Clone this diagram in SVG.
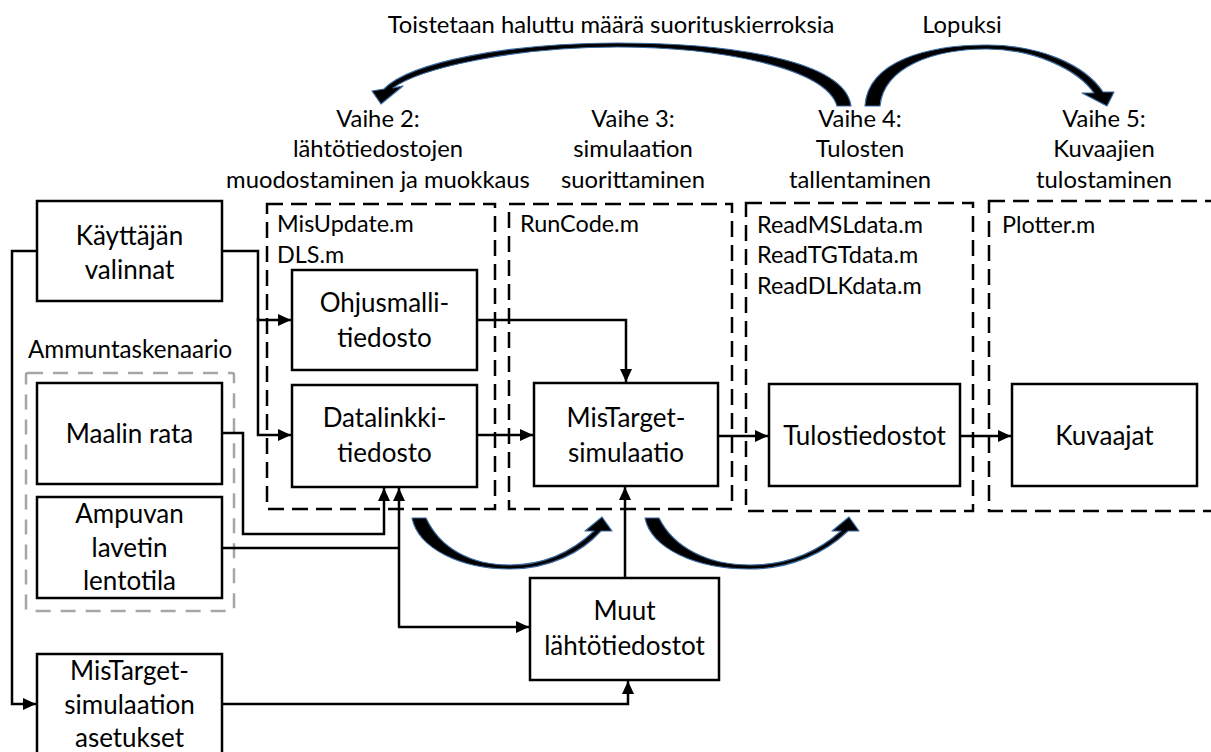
<svg xmlns="http://www.w3.org/2000/svg" width="1211" height="752" viewBox="0 0 1211 752">
  <defs>
    <style>
      .box { fill: #ffffff; stroke: #000000; stroke-width: 2.5; }
      .grp { fill: none; stroke: #000000; stroke-width: 2.5; stroke-dasharray: 16 8; }
      .scen { fill: none; stroke: #a6a6a6; stroke-width: 2.5; stroke-dasharray: 15 10; }
      .wire { fill: none; stroke: #000000; stroke-width: 2.5; }
      .loop { fill: #000000; stroke: #3b6aa0; stroke-width: 1.2; stroke-linejoin: round; }
      text { font-family: Lato, "Liberation Sans", sans-serif; fill: #000000; }
      .lbl { font-size: 26px; text-anchor: middle; }
      .hd { font-size: 23.8px; text-anchor: middle; }
      .fn { font-size: 23.4px; }
      .scn { font-size: 24.2px; }
    </style>
    <marker id="arrow" markerUnits="userSpaceOnUse" markerWidth="14" markerHeight="12" refX="13" refY="6" orient="auto">
      <path d="M0,0 L13,6 L0,12 Z" fill="#000000"/>
    </marker>
  </defs>

  <rect width="1211" height="752" fill="#ffffff"/>

  <!-- top captions -->
  <g id="captions">
    <text class="hd" x="611" y="33">Toistetaan haluttu määrä suorituskierroksia</text>
    <text class="hd" x="962" y="33">Lopuksi</text>
  </g>

  <!-- phase headings -->
  <g id="phase2-title">
    <text class="hd" x="378" y="127">Vaihe 2:</text>
    <text class="hd" x="378" y="157">lähtötiedostojen</text>
    <text class="hd" x="378" y="188">muodostaminen ja muokkaus</text>
  </g>
  <g id="phase3-title">
    <text class="hd" x="633" y="127">Vaihe 3:</text>
    <text class="hd" x="633" y="157">simulaation</text>
    <text class="hd" x="633" y="188">suorittaminen</text>
  </g>
  <g id="phase4-title">
    <text class="hd" x="860" y="127">Vaihe 4:</text>
    <text class="hd" x="860" y="157">Tulosten</text>
    <text class="hd" x="860" y="188">tallentaminen</text>
  </g>
  <g id="phase5-title">
    <text class="hd" x="1104" y="127">Vaihe 5:</text>
    <text class="hd" x="1104" y="157">Kuvaajien</text>
    <text class="hd" x="1104" y="188">tulostaminen</text>
  </g>

  <!-- phase containers -->
  <g id="phase2">
    <rect class="grp" x="267" y="204" width="228" height="305"/>
    <text class="fn" x="277" y="232">MisUpdate.m</text>
    <text class="fn" x="277" y="263">DLS.m</text>
  </g>
  <g id="phase3">
    <rect class="grp" x="509" y="204" width="223" height="305"/>
    <text class="fn" x="520" y="232">RunCode.m</text>
  </g>
  <g id="phase4">
    <rect class="grp" x="746" y="203" width="227" height="308"/>
    <text class="fn" x="757" y="233">ReadMSLdata.m</text>
    <text class="fn" x="757" y="263">ReadTGTdata.m</text>
    <text class="fn" x="757" y="294">ReadDLKdata.m</text>
  </g>
  <g id="phase5">
    <rect class="grp" x="989" y="201" width="260" height="310"/>
    <text class="fn" x="1002" y="233">Plotter.m</text>
  </g>

  <!-- scenario container -->
  <g id="scenario">
    <rect class="scen" x="26" y="373" width="208" height="238" rx="2"/>
    <text class="scn" x="28" y="358">Ammuntaskenaario</text>
  </g>

  <!-- nodes -->
  <g id="user-choices">
    <rect class="box" x="37" y="201" width="185" height="100"/>
    <text class="lbl" x="129.5" y="245">Käyttäjän</text>
    <text class="lbl" x="129.5" y="279">valinnat</text>
  </g>
  <g id="target-track">
    <rect class="box" x="37" y="383" width="185" height="101"/>
    <text class="lbl" x="129.5" y="443">Maalin rata</text>
  </g>
  <g id="launcher-state">
    <rect class="box" x="37" y="497" width="185" height="101"/>
    <text class="lbl" x="129.5" y="523">Ampuvan</text>
    <text class="lbl" x="129.5" y="557">lavetin</text>
    <text class="lbl" x="129.5" y="590">lentotila</text>
  </g>
  <g id="sim-settings">
    <rect class="box" x="37" y="654" width="185" height="110"/>
    <text class="lbl" x="129.5" y="680">MisTarget-</text>
    <text class="lbl" x="129.5" y="714">simulaation</text>
    <text class="lbl" x="129.5" y="747">asetukset</text>
  </g>
  <g id="missile-model">
    <rect class="box" x="292" y="270" width="185" height="100"/>
    <text class="lbl" x="384.5" y="312">Ohjusmalli-</text>
    <text class="lbl" x="384.5" y="347">tiedosto</text>
  </g>
  <g id="datalink">
    <rect class="box" x="292" y="385" width="185" height="102"/>
    <text class="lbl" x="384.5" y="427">Datalinkki-</text>
    <text class="lbl" x="384.5" y="462">tiedosto</text>
  </g>
  <g id="mistarget">
    <rect class="box" x="534" y="383" width="184" height="103"/>
    <text class="lbl" x="626" y="427">MisTarget-</text>
    <text class="lbl" x="626" y="462">simulaatio</text>
  </g>
  <g id="other-inputs">
    <rect class="box" x="530" y="578" width="189" height="102"/>
    <text class="lbl" x="624.5" y="620">Muut</text>
    <text class="lbl" x="624.5" y="655">lähtötiedostot</text>
  </g>
  <g id="results">
    <rect class="box" x="769" y="384" width="191" height="102"/>
    <text class="lbl" x="864.5" y="445">Tulostiedostot</text>
  </g>
  <g id="plots">
    <rect class="box" x="1012" y="384" width="185" height="102"/>
    <text class="lbl" x="1104.5" y="445">Kuvaajat</text>
  </g>

  <!-- connectors -->
  <g id="connectors">
    <path class="wire" d="M222 251 H258 V320 H291" marker-end="url(#arrow)"/>
    <path class="wire" d="M258 318 V435 H291" marker-end="url(#arrow)"/>
    <path class="wire" d="M37 251 H12 V704 H36" marker-end="url(#arrow)"/>
    <path class="wire" d="M477 320 H626 V382" marker-end="url(#arrow)"/>
    <path class="wire" d="M477 435 H533" marker-end="url(#arrow)"/>
    <path class="wire" d="M718 436 H768" marker-end="url(#arrow)"/>
    <path class="wire" d="M960 436 H1011" marker-end="url(#arrow)"/>
    <path class="wire" d="M222 433 H243 V534 H384 V488" marker-end="url(#arrow)"/>
    <path class="wire" d="M222 548 H399"/>
    <path class="wire" d="M399 627 V488" marker-end="url(#arrow)"/>
    <path class="wire" d="M398 627 H529" marker-end="url(#arrow)"/>
    <path class="wire" d="M625 578 V487" marker-end="url(#arrow)"/>
    <path class="wire" d="M222 704 H628 V681" marker-end="url(#arrow)"/>

    <!-- repeat loop: phase 4 back to phase 2 -->
    <path class="loop" d="M851 106 C845 60 730 43 617 43 C510 43 410 62 384 89 L372 91 L381 104 L403 86 L393 88 C420 68 515 47 617 47 C720 47 826 68 837 106 Z"/>
    <!-- final step: phase 4 to phase 5 -->
    <path class="loop" d="M865 106 C868 60 930 45 987 45 C1040 45 1085 65 1103 92 L1114 92 L1107 106 L1082 93 L1094 93 C1078 70 1035 49 987 49 C935 49 884 66 880 106 Z"/>
    <!-- phase 2 to phase 3 -->
    <path class="loop" d="M412 518 C418 548 460 569 510 569 C550 569 582 552 601 531 L612 531 L602 517 L585 531 L594 531 C576 548 548 565 510 565 C470 565 440 548 426 518 Z"/>
    <!-- phase 3 to phase 4 -->
    <path class="loop" d="M645 518 C651 548 695 569 750 569 C792 569 826 552 848 531 L859 531 L849 517 L832 531 L841 531 C822 548 792 565 750 565 C708 565 674 548 659 518 Z"/>
  </g>
</svg>
